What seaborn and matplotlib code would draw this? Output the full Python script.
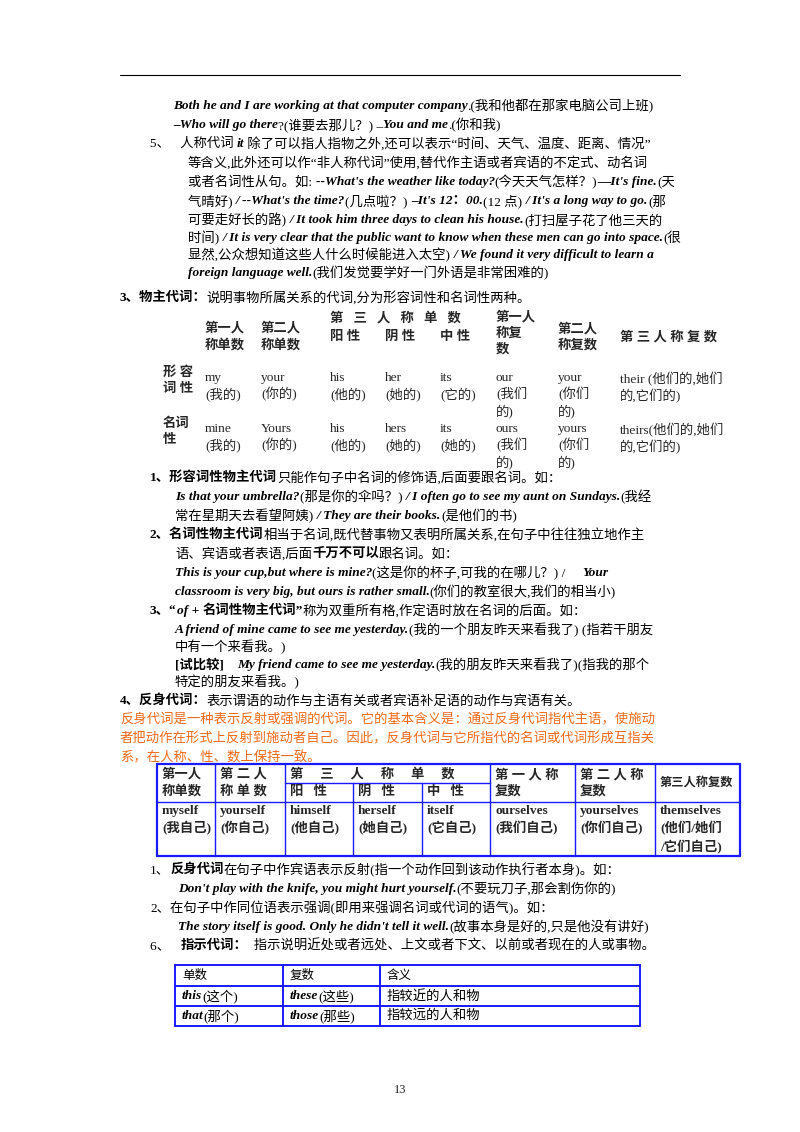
import re
import matplotlib
matplotlib.use("Agg")
import matplotlib.pyplot as plt
import seaborn as sns

sns.set_theme(style="white")
FAM = ['Liberation Serif', 'Noto Sans CJK SC', 'DejaVu Sans']
plt.rcParams['font.family'] = FAM

W, H = 800, 1132
fig = plt.figure(figsize=(8, 11.32), dpi=100)
ax = fig.add_axes([0, 0, 1, 1])
ax.set_xlim(0, W); ax.set_ylim(H, 0); ax.axis('off')
fig.canvas.draw()
R = fig.canvas.get_renderer()
FS = 9.6
BLUE = '#1a1aff'
ORANGE = '#f26b1d'

def seg_line(x, y, s, color='black', fs=FS):
    # *...* bold italic, #...# bold
    parts = re.split(r'(\*[^*]*\*|#[^#]*#)', s)
    for p in parts:
        if not p:
            continue
        kw = dict(fontsize=fs, color=color, va='center', ha='left')
        if p.startswith('*'):
            p = p[1:-1]; kw.update(weight='bold', style='italic')
        elif p.startswith('#'):
            p = p[1:-1]; kw.update(weight='bold')
        t = ax.text(x, y, p, **kw)
        bb = t.get_window_extent(renderer=R)
        x += bb.width

ax.plot([120, 680], [75, 75], color='black', lw=0.8)

lines = [
    (173, 106, "*Both he and I are working at that computer company*.(我和他都在那家电脑公司上班)"),
    (173, 125, "*–Who will go there*?(谁要去那儿？) –*You and me*.(你和我)"),
    (150, 144, "5、   人称代词 *it* 除了可以指人指物之外,还可以表示“时间、天气、温度、距离、情况”"),
    (188, 163, "等含义,此外还可以作“非人称代词”使用,替代作主语或者宾语的不定式、动名词"),
    (188, 182, "或者名词性从句。如: *--What's the weather like today?*(今天天气怎样？)*—It's fine.*(天"),
    (188, 201, "气晴好) */ --What's the time?*(几点啦？) *–It's 12：00.*(12 点) */ It's a long way to go.*(那"),
    (188, 220, "可要走好长的路) */ It took him three days to clean his house.*(打扫屋子花了他三天的"),
    (188, 238, "时间) */ It is very clear that the public want to know when these men can go into space.*(很"),
    (188, 255, "显然,公众想知道这些人什么时候能进入太空) */ We found it very difficult to learn a*"),
    (188, 273, "*foreign language well.*(我们发觉要学好一门外语是非常困难的)"),
    (120, 298, "#3、物主代词：#说明事物所属关系的代词,分为形容词性和名词性两种。"),
    (150, 478, "#1、形容词性物主代词#只能作句子中名词的修饰语,后面要跟名词。如："),
    (175, 497, "*Is that your umbrella?*(那是你的伞吗？) */ I often go to see my aunt on Sundays.*(我经"),
    (175, 516, "常在星期天去看望阿姨) */ They are their books.*(是他们的书)"),
    (150, 535, "#2、名词性物主代词#相当于名词,既代替事物又表明所属关系,在句子中往往独立地作主"),
    (175, 554, "语、宾语或者表语,后面#千万不可以#跟名词。如："),
    (175, 573, "*This is your cup,but where is mine?*(这是你的杯子,可我的在哪儿？) /     *Your*"),
    (175, 592, "*classroom is very big, but ours is rather small.*(你们的教室很大,我们的相当小)"),
    (150, 611, "#3、“#*of +* #名词性物主代词”#称为双重所有格,作定语时放在名词的后面。如："),
    (175, 630, "*A friend of mine came to see me yesterday.*(我的一个朋友昨天来看我了) (指若干朋友"),
    (175, 647, "中有一个来看我。)"),
    (175, 665, "#[试比较]#    *My friend came to see me yesterday.*(我的朋友昨天来看我了)(指我的那个"),
    (175, 682, "特定的朋友来看我。)"),
    (120, 701, "#4、反身代词：#表示谓语的动作与主语有关或者宾语补足语的动作与宾语有关。"),
    (150, 870, "1、#反身代词#在句子中作宾语表示反射(指一个动作回到该动作执行者本身)。如："),
    (178, 889, "*Don't play with the knife, you might hurt yourself.*(不要玩刀子,那会割伤你的)"),
    (150, 908, "2、在句子中作同位语表示强调(即用来强调名词或代词的语气)。如："),
    (178, 927, "*The story itself is good. Only he didn't tell it well.*(故事本身是好的,只是他没有讲好)"),
    (150, 946, "6、   #指示代词：#  指示说明近处或者远处、上文或者下文、以前或者现在的人或事物。"),
]
for x, y, s in lines:
    seg_line(x, y, s)

orange_lines = [
    "反身代词是一种表示反射或强调的代词。它的基本含义是：通过反身代词指代主语，使施动",
    "者把动作在形式上反射到施动者自己。因此，反身代词与它所指代的名词或代词形成互指关",
    "系，在人称、性、数上保持一致。",
]
for i, s in enumerate(orange_lines):
    seg_line(120, 720 + 19 * i, s, color=ORANGE)

# ---- Table 1: possessive pronouns ----
t1_cols = [205, 261, 330, 385, 440, 496, 558, 620]
t1_headers = ["第一人\n称单数", "第二人\n称单数", "阳 性", "阴 性", "中 性", "第一人\n称复\n数", "第二人\n称复数", "第 三 人 称 复 数"]
adj_forms = ["my\n(我的)", "your\n(你的)", "his\n(他的)", "her\n(她的)", "its\n(它的)", "our\n(我们\n的)", "your\n(你们\n的)", "their (他们的,她们\n的,它们的)"]
noun_forms = ["mine\n(我的)", "Yours\n(你的)", "his\n(他的)", "hers\n(她的)", "its\n(她的)", "ours\n(我们\n的)", "yours\n(你们\n的)", "theirs(他们的,她们\n的,它们的)"]
row_labels = ["形 容\n词 性", "名词\n性"]
ax.text(330, 318, "第   三   人   称   单   数", fontsize=FS, weight='bold', va='center')
for x, h in zip(t1_cols, t1_headers):
    yy = 333 if h.count("\n") == 2 else 337
    ax.text(x, yy, h, fontsize=FS, weight='bold', va='center', linespacing=1.4)
for ry, lab, forms in [(386, row_labels[0], adj_forms), (437, row_labels[1], noun_forms)]:
    ax.text(163, ry - 5, lab, fontsize=FS, weight='bold', va='center', linespacing=1.4)
    for x, f in zip(t1_cols, forms):
        ax.text(x, ry - 14, f, fontsize=FS, va='top', linespacing=1.3)

# ---- Table 2: reflexive pronouns ----
t2_x = [157, 215, 285, 353, 422, 490, 575, 655, 740]
t2_top, t2_mid, t2_bot = 764, 802, 856
t2_headers = ["第一人\n称单数", "第 二 人\n称 单 数", "阳   性", "阴   性", "中   性", "第 一 人 称\n复数", "第 二 人 称\n复数", "第三人称复数"]
reflexives = ["myself\n(我自己)", "yourself\n(你自己)", "himself\n(他自己)", "herself\n(她自己)", "itself\n(它自己)",
              "ourselves\n(我们自己)", "yourselves\n(你们自己)", "themselves\n(他们/她们\n/它们自己)"]
for x in t2_x:
    y0 = 783 if x in (353, 422) else t2_top
    ax.plot([x, x], [y0, t2_bot], color=BLUE, lw=1.6 if x in (157, 740) else 1.0)
for y in (t2_top, t2_mid, t2_bot):
    ax.plot([157, 740], [y, y], color=BLUE, lw=1.6 if y != t2_mid else 1.0)
ax.plot([285, 490], [783, 783], color=BLUE, lw=1.0)
ax.text(290, 774, "第     三     人     称     单     数", fontsize=FS, weight='bold', va='center')
for i, h in enumerate(t2_headers):
    x = t2_x[i] + 5
    if 2 <= i <= 4:
        ax.text(x, 792, h, fontsize=FS, weight='bold', va='center')
    elif i == 7:
        ax.text(x, 783, h, fontsize=8.8, weight='bold', va='center')
    else:
        ax.text(x, 783, h, fontsize=FS, weight='bold', va='center', linespacing=1.4)
for i, r in enumerate(reflexives):
    ax.text(t2_x[i] + 5, 805, r, fontsize=FS, weight='bold', va='top', linespacing=1.4)

# ---- Table 3: demonstratives ----
t3_x = [175, 283, 380, 640]
t3_y = [965, 986, 1006, 1026]
t3_rows = [["单数", "复数", "含义"],
           ["*this*(这个)", "*these*(这些)", "指较近的人和物"],
           ["*that*(那个)", "*those*(那些)", "指较远的人和物"]]
for x in t3_x:
    ax.plot([x, x], [t3_y[0], t3_y[-1]], color=BLUE, lw=1.4)
for y in t3_y:
    ax.plot([175, 640], [y, y], color=BLUE, lw=1.4)
for r, row in enumerate(t3_rows):
    for c, cell in enumerate(row):
        seg_line(t3_x[c] + 7, (t3_y[r] + t3_y[r + 1]) / 2, cell, fs=FS if r else 9)

ax.text(400, 1090, "13", fontsize=9, ha='center', va='center')

fig.savefig("out.png", dpi=100, facecolor='white')
